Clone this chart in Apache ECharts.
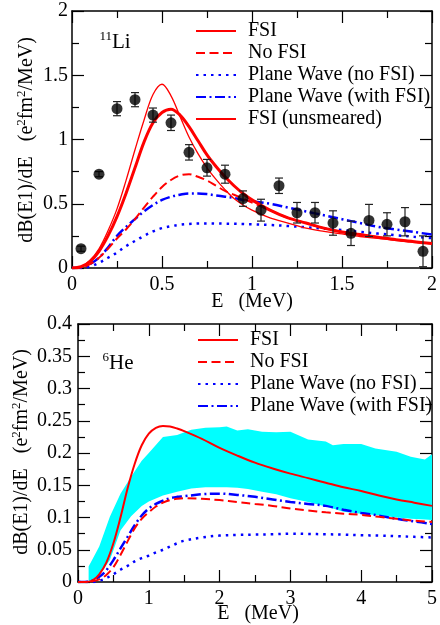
<!DOCTYPE html>
<html>
<head>
<meta charset="utf-8">
<script src="https://cdn.jsdelivr.net/npm/echarts@6/dist/echarts.min.js"></script>
<style>
html, body { margin: 0; padding: 0; background: #fff; }
#main { width: 440px; height: 625px; }
</style>
</head>
<body>
<div id="main"></div>
<script>
// 11Li 面板数据
var liE = [0, 0.05, 0.1, 0.15, 0.2, 0.25, 0.3, 0.35, 0.4, 0.45, 0.5, 0.55, 0.6, 0.65, 0.7, 0.75, 0.8, 0.85, 0.9, 0.95, 1.0, 1.1, 1.2, 1.3, 1.4, 1.5, 1.6, 1.7, 1.8, 1.9, 2.0];
var liFsi = [0, 0.01, 0.05, 0.13, 0.25, 0.4, 0.58, 0.78, 0.98, 1.13, 1.21, 1.235, 1.19, 1.1, 0.99, 0.88, 0.79, 0.71, 0.64, 0.58, 0.53, 0.45, 0.39, 0.35, 0.31, 0.28, 0.26, 0.24, 0.22, 0.205, 0.19];
var liNoFsi = [0, 0.005, 0.03, 0.08, 0.15, 0.23, 0.3, 0.38, 0.47, 0.555, 0.63, 0.685, 0.72, 0.73, 0.71, 0.68, 0.64, 0.6, 0.57, 0.54, 0.51, 0.45, 0.39, 0.35, 0.31, 0.28, 0.26, 0.24, 0.22, 0.205, 0.19];
var liPw = [0, 0, 0.01, 0.04, 0.08, 0.12, 0.17, 0.21, 0.25, 0.285, 0.31, 0.325, 0.337, 0.343, 0.346, 0.347, 0.346, 0.345, 0.344, 0.342, 0.34, 0.335, 0.327, 0.317, 0.306, 0.295, 0.282, 0.268, 0.255, 0.243, 0.232];
var liPwFsi = [0, 0.005, 0.03, 0.08, 0.16, 0.25, 0.32, 0.38, 0.44, 0.49, 0.53, 0.555, 0.57, 0.58, 0.58, 0.575, 0.565, 0.555, 0.545, 0.53, 0.52, 0.5, 0.47, 0.44, 0.41, 0.38, 0.35, 0.32, 0.3, 0.28, 0.26];
var liUnsm = [0, 0.01, 0.06, 0.15, 0.29, 0.46, 0.68, 0.92, 1.15, 1.35, 1.43, 1.34, 1.18, 1.02, 0.89, 0.78, 0.69, 0.61, 0.54, 0.49, 0.45, 0.39, 0.35, 0.31, 0.285, 0.265, 0.245, 0.23, 0.215, 0.2, 0.19];

// 实验点
var ptE = [0.05, 0.15, 0.25, 0.35, 0.45, 0.55, 0.65, 0.75, 0.85, 0.95, 1.05, 1.15, 1.25, 1.35, 1.45, 1.55, 1.65, 1.75, 1.85, 1.95];
var ptV = [0.15, 0.73, 1.24, 1.31, 1.19, 1.13, 0.90, 0.78, 0.73, 0.54, 0.45, 0.64, 0.43, 0.43, 0.35, 0.27, 0.37, 0.34, 0.36, 0.13];
var ptErr = [0.02, 0.02, 0.055, 0.055, 0.055, 0.06, 0.06, 0.065, 0.07, 0.06, 0.085, 0.06, 0.08, 0.08, 0.095, 0.095, 0.125, 0.09, 0.11, 0.12];

// 6He 面板数据
var heE = [0, 0.1, 0.2, 0.3, 0.4, 0.5, 0.6, 0.7, 0.8, 0.9, 1.0, 1.1, 1.2, 1.3, 1.4, 1.5, 1.75, 2.0, 2.25, 2.5, 2.75, 3.0, 3.25, 3.5, 3.75, 4.0, 4.25, 4.5, 4.75, 5.0];
var heFsi = [0, 0, 0.002, 0.012, 0.03, 0.06, 0.1, 0.145, 0.183, 0.212, 0.23, 0.239, 0.242, 0.241, 0.238, 0.234, 0.222, 0.208, 0.196, 0.185, 0.176, 0.168, 0.161, 0.154, 0.147, 0.141, 0.134, 0.128, 0.123, 0.118];
var heNoFsi = [0, 0, 0.001, 0.004, 0.011, 0.023, 0.042, 0.063, 0.083, 0.098, 0.108, 0.117, 0.123, 0.127, 0.129, 0.13, 0.129, 0.127, 0.124, 0.121, 0.118, 0.114, 0.111, 0.108, 0.106, 0.104, 0.101, 0.098, 0.095, 0.093];
var hePw = [0, 0, 0, 0.002, 0.006, 0.012, 0.019, 0.025, 0.032, 0.037, 0.041, 0.046, 0.05, 0.055, 0.06, 0.064, 0.069, 0.072, 0.073, 0.0735, 0.074, 0.075, 0.0745, 0.074, 0.0735, 0.0725, 0.072, 0.071, 0.07, 0.069];
var hePwFsi = [0, 0, 0.002, 0.008, 0.018, 0.034, 0.052, 0.07, 0.088, 0.103, 0.114, 0.121, 0.126, 0.13, 0.132, 0.133, 0.136, 0.137, 0.135, 0.132, 0.128, 0.124, 0.121, 0.118, 0.112, 0.107, 0.103, 0.098, 0.094, 0.09];

// 青色误差带
var bandE = [0.15, 0.3, 0.45, 0.6, 0.75, 0.9, 1.0, 1.2, 1.4, 1.6, 1.8, 2.0, 2.1, 2.25, 2.4, 2.6, 2.8, 3.0, 3.25, 3.5, 3.6, 3.75, 4.0, 4.2, 4.5, 4.7, 4.9, 5.0];
var bandHi = [0.024, 0.055, 0.101, 0.137, 0.163, 0.188, 0.2, 0.225, 0.228, 0.236, 0.239, 0.24, 0.241, 0.235, 0.237, 0.233, 0.232, 0.233, 0.221, 0.218, 0.212, 0.214, 0.214, 0.207, 0.202, 0.194, 0.19, 0.198];
var bandLo = [0.0, 0.01, 0.034, 0.08, 0.102, 0.118, 0.125, 0.134, 0.14, 0.145, 0.147, 0.147, 0.147, 0.146, 0.144, 0.14, 0.136, 0.13, 0.124, 0.117, 0.114, 0.109, 0.106, 0.104, 0.1, 0.098, 0.097, 0.096];

var FONT = '"Liberation Serif", "DejaVu Serif", serif';
var RED = '#ff0000', BLUE = '#0000ff';

function pairs(xs, ys) {
    return xs.map(function (x, i) { return [x, ys[i]]; });
}

// 坐标轴 (四边框+内刻度)
function makeX(grid, max, iv, pos) {
    return {
        type: 'value', gridIndex: grid, min: 0, max: max, interval: iv, position: pos,
        axisLine: { show: true, onZero: false, lineStyle: { color: '#000', width: 1.5 } },
        axisTick: { show: true, inside: true, length: 12, lineStyle: { color: '#000', width: 1.2 } },
        minorTick: { show: true, splitNumber: 2, length: 7, lineStyle: { color: '#000', width: 1.2 } },
        axisLabel: { show: pos == 'bottom', margin: 7, color: '#000', fontFamily: FONT, fontSize: 20 },
        splitLine: { show: false }
    };
}
function makeY(grid, max, iv, pos, margin) {
    return {
        type: 'value', gridIndex: grid, min: 0, max: max, interval: iv, position: pos,
        axisLine: { show: true, onZero: false, lineStyle: { color: '#000', width: 1.5 } },
        axisTick: { show: true, inside: true, length: 12, lineStyle: { color: '#000', width: 1.2 } },
        minorTick: { show: true, splitNumber: 2, length: 7, lineStyle: { color: '#000', width: 1.2 } },
        axisLabel: { show: pos == 'left', margin: margin, color: '#000', fontFamily: FONT, fontSize: 20 },
        splitLine: { show: false }
    };
}

function line(name, xi, xs, ys, color, width, dash, z) {
    return {
        name: name, type: 'line', xAxisIndex: xi, yAxisIndex: xi,
        data: pairs(xs, ys), smooth: 0.35, symbol: 'none', z: z || 3,
        lineStyle: { color: color, width: width, type: dash },
        itemStyle: { color: color }
    };
}

function renderErr(params, api) {
    var x = api.value(0), y = api.value(1), e = api.value(2);
    var hi = api.coord([x, y + e]);
    var lo = api.coord([x, y - e]);
    var w = 4;
    var st = { stroke: '#222', lineWidth: 1.2 };
    return {
        type: 'group', children: [
            { type: 'line', shape: { x1: hi[0], y1: hi[1], x2: lo[0], y2: lo[1] }, style: st },
            { type: 'line', shape: { x1: hi[0] - w, y1: hi[1], x2: hi[0] + w, y2: hi[1] }, style: st },
            { type: 'line', shape: { x1: lo[0] - w, y1: lo[1], x2: lo[0] + w, y2: lo[1] }, style: st }
        ]
    };
}

function renderBand(params, api) {
    var pts = [];
    for (var i = 0; i < bandE.length; i++) pts.push(api.coord([bandE[i], bandHi[i]]));
    for (var j = bandE.length - 1; j >= 0; j--) pts.push(api.coord([bandE[j], bandLo[j]]));
    return { type: 'polygon', shape: { points: pts }, style: { fill: '#00ffff', stroke: 'none' } };
}

var chart = echarts.init(document.getElementById('main'));

var sup = { fontSize: 13, fontFamily: FONT, verticalAlign: 'top', lineHeight: 24 };
function txt(x, y, s, size, rot) {
    return {
        type: 'text', x: x, y: y, rotation: rot || 0,
        style: {
            text: s, rich: { s: sup }, fontSize: size, fontFamily: FONT, fill: '#000',
            align: 'center', verticalAlign: 'middle', lineHeight: 24
        }
    };
}

var legendBase = {
    orient: 'vertical', itemWidth: 40, itemHeight: 14, itemGap: 2, padding: 0,
    selectedMode: false, itemStyle: { opacity: 0 },
    textStyle: { fontFamily: FONT, fontSize: 20, color: '#000', lineHeight: 20, padding: [0, 0, 0, 7] }
};

option = {
    animation: false,
    backgroundColor: '#fff',
    grid: [
        { left: 72, top: 11, width: 360, height: 257 },
        { left: 78, top: 324, width: 359, height: 258 }
    ],
    xAxis: [
        makeX(0, 2, 0.5, 'bottom'), makeX(0, 2, 0.5, 'top'),
        makeX(1, 5, 1, 'bottom'), makeX(1, 5, 1, 'top')
    ],
    yAxis: [
        makeY(0, 2, 0.5, 'left', 4), makeY(0, 2, 0.5, 'right', 4),
        makeY(1, 0.4, 0.05, 'left', 6), makeY(1, 0.4, 0.05, 'right', 6)
    ],
    legend: [
        Object.assign({}, legendBase, {
            left: 195, top: 21,
            data: ['FSI', 'No FSI', 'Plane Wave (no FSI)', 'Plane Wave (with FSI)', 'FSI (unsmeared)']
        }),
        Object.assign({}, legendBase, {
            left: 197, top: 330,
            data: ['FSI', 'No FSI', 'Plane Wave (no FSI)', 'Plane Wave (with FSI)']
        })
    ],
    graphic: [
        txt(115, 42, '{s|11}Li', 21),
        txt(118, 363, '{s|6}He', 21),
        txt(27, 140, 'dB(E1)/dE   (e{s|2}fm{s|2}/MeV)', 20, Math.PI / 2),
        txt(22, 452, 'dB(E1)/dE   (e{s|2}fm{s|2}/MeV)', 20, Math.PI / 2),
        txt(252, 302, 'E   (MeV)', 20),
        txt(258, 614, 'E   (MeV)', 20)
    ],
    series: [
        // 11Li
        line('Plane Wave (no FSI)', 0, liE, liPw, BLUE, 2.5, [2.5, 5]),
        line('Plane Wave (with FSI)', 0, liE, liPwFsi, BLUE, 2.5, [10, 3.5, 2, 3.5]),
        line('No FSI', 0, liE, liNoFsi, RED, 2, [9, 4.5]),
        line('FSI (unsmeared)', 0, liE, liUnsm, RED, 1.3, 'solid'),
        line('FSI', 0, liE, liFsi, RED, 3, 'solid', 4),
        {
            type: 'custom', xAxisIndex: 0, yAxisIndex: 0, z: 5,
            data: ptE.map(function (e, i) { return [e, ptV[i], ptErr[i]]; }),
            renderItem: renderErr
        },
        {
            type: 'scatter', xAxisIndex: 0, yAxisIndex: 0, z: 6,
            data: pairs(ptE, ptV), symbol: 'circle', symbolSize: 11,
            itemStyle: { color: '#000' }
        },
        // 6He
        {
            type: 'custom', xAxisIndex: 2, yAxisIndex: 2, z: 1,
            data: [[0, 0]], renderItem: renderBand
        },
        line('Plane Wave (no FSI)', 2, heE, hePw, BLUE, 2.5, [2.5, 5]),
        line('Plane Wave (with FSI)', 2, heE, hePwFsi, BLUE, 2.5, [10, 3.5, 2, 3.5]),
        line('No FSI', 2, heE, heNoFsi, RED, 2, [9, 4.5]),
        line('FSI', 2, heE, heFsi, RED, 2, 'solid', 4)
    ]
};

chart.setOption(option);
</script>
</body>
</html>
